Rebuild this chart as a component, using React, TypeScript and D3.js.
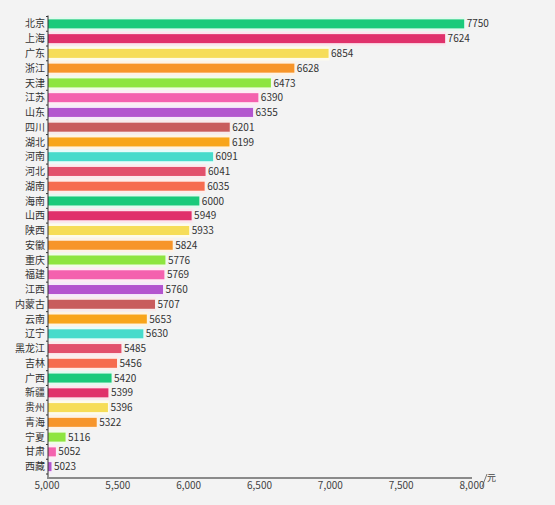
/**
 * 各省份平均工资横向条形图
 */

import React, { useEffect, useRef } from 'react';
import * as d3 from 'd3';

const provinces = [
  '北京', '上海', '广东', '浙江', '天津', '江苏', '山东', '四川', '湖北', '河南',
  '河北', '湖南', '海南', '山西', '陕西', '安徽', '重庆', '福建', '江西', '内蒙古',
  '云南', '辽宁', '黑龙江', '吉林', '广西', '新疆', '贵州', '青海', '宁夏', '甘肃', '西藏',
];

const values = [
  7750, 7624, 6854, 6628, 6473, 6390, 6355, 6201, 6199, 6091,
  6041, 6035, 6000, 5949, 5933, 5824, 5776, 5769, 5760, 5707,
  5653, 5630, 5485, 5456, 5420, 5399, 5396, 5322, 5116, 5052, 5023,
];

const palette = [
  '#1bca7b', '#e0316b', '#f6dd58', '#f7952a', '#8ee540', '#f461ae',
  '#b355cf', '#c85c5c', '#f8a51b', '#47dbcb', '#e2506c', '#f66c4f',
];

const xTicks = [5000, 5500, 6000, 6500, 7000, 7500, 8000];

const WIDTH = 555;
const HEIGHT = 505;

const App: React.FC = () => {
  const svgRef = useRef<SVGSVGElement>(null);

  useEffect(() => {
    if (!svgRef.current) return;
    const svg = d3.select(svgRef.current);
    svg.selectAll('*').remove();

    const font = '"Noto Sans CJK SC", "Open Sans", sans-serif';
    const left = 48;
    const axisY = 478;

    svg.append('rect')
      .attr('width', WIDTH)
      .attr('height', HEIGHT)
      .attr('fill', '#f3f3f3');

    // bars in the source use a wider scale than the printed axis
    const xBar = d3.scaleLinear().domain([5000, 8000]).range([left, left + 454]);
    const xAxis = d3.scaleLinear().domain([5000, 8000]).range([left - 1, 472]);

    const y = d3
      .scaleBand<string>()
      .domain(provinces)
      .range([16.5, 474])
      .paddingInner(0.39)
      .paddingOuter(0.195);

    const rows = provinces.map((name, i) => ({ name, value: values[i], color: palette[i % palette.length] }));

    // Halo
    svg.append('g')
      .selectAll('rect')
      .data(rows)
      .join('rect')
      .attr('x', left)
      .attr('y', d => (y(d.name) || 0) - 2.5)
      .attr('width', d => xBar(d.value) - left + 1)
      .attr('height', y.bandwidth() + 5)
      .attr('fill', d => d3.interpolateRgb('#ffffff', d.color)(0.12));

    // Bars
    svg.append('g')
      .selectAll('rect')
      .data(rows)
      .join('rect')
      .attr('x', left)
      .attr('y', d => y(d.name) || 0)
      .attr('width', d => xBar(d.value) - left)
      .attr('height', y.bandwidth())
      .attr('fill', d => d.color);

    // Value labels
    svg.append('g')
      .selectAll('text')
      .data(rows)
      .join('text')
      .attr('x', d => xBar(d.value) + 2.5)
      .attr('y', d => (y(d.name) || 0) + y.bandwidth() / 2)
      .attr('dy', '0.36em')
      .attr('font-family', font)
      .attr('font-size', 10)
      .attr('fill', '#333')
      .text(d => d.value);

    // Category labels
    svg.append('g')
      .selectAll('text')
      .data(rows)
      .join('text')
      .attr('x', left - 3)
      .attr('y', d => (y(d.name) || 0) + y.bandwidth() / 2)
      .attr('dy', '0.36em')
      .attr('text-anchor', 'end')
      .attr('font-family', font)
      .attr('font-size', 10)
      .attr('fill', '#333')
      .text(d => d.name);

    // Y axis line + band ticks
    const step = y.step();
    const y0 = y.range()[0];
    svg.append('line')
      .attr('x1', left)
      .attr('x2', left)
      .attr('y1', y0 - 1)
      .attr('y2', axisY)
      .attr('stroke', '#333')
      .attr('stroke-width', 1);

    svg.append('g')
      .selectAll('line')
      .data(d3.range(provinces.length + 1))
      .join('line')
      .attr('x1', left - 2)
      .attr('x2', left)
      .attr('y1', k => y0 + k * step)
      .attr('y2', k => y0 + k * step)
      .attr('stroke', '#333')
      .attr('stroke-width', 1);

    // X axis
    svg.append('line')
      .attr('x1', left - 1)
      .attr('x2', xAxis(8000))
      .attr('y1', axisY)
      .attr('y2', axisY)
      .attr('stroke', '#8a8a8a')
      .attr('stroke-width', 2);

    svg.append('g')
      .selectAll('text')
      .data(xTicks)
      .join('text')
      .attr('x', d => xAxis(d))
      .attr('y', axisY + 10.5)
      .attr('text-anchor', 'middle')
      .attr('font-family', font)
      .attr('font-size', 10)
      .attr('fill', '#444')
      .text(d => d3.format(',')(d));

    // Unit
    svg.append('line')
      .attr('x1', xAxis(8000) + 10)
      .attr('x2', xAxis(8000) + 15)
      .attr('y1', axisY + 9)
      .attr('y2', axisY - 4)
      .attr('stroke', '#555')
      .attr('stroke-width', 0.8);

    svg.append('text')
      .attr('x', xAxis(8000) + 15)
      .attr('y', axisY + 3)
      .attr('font-family', font)
      .attr('font-size', 9)
      .attr('fill', '#444')
      .text('元');
  }, []);

  return (
    <div style={{ position: 'fixed', left: 0, top: 0, width: WIDTH, height: HEIGHT, background: '#f3f3f3' }}>
      <svg ref={svgRef} width={WIDTH} height={HEIGHT} style={{ display: 'block' }} />
    </div>
  );
};

export default App;
